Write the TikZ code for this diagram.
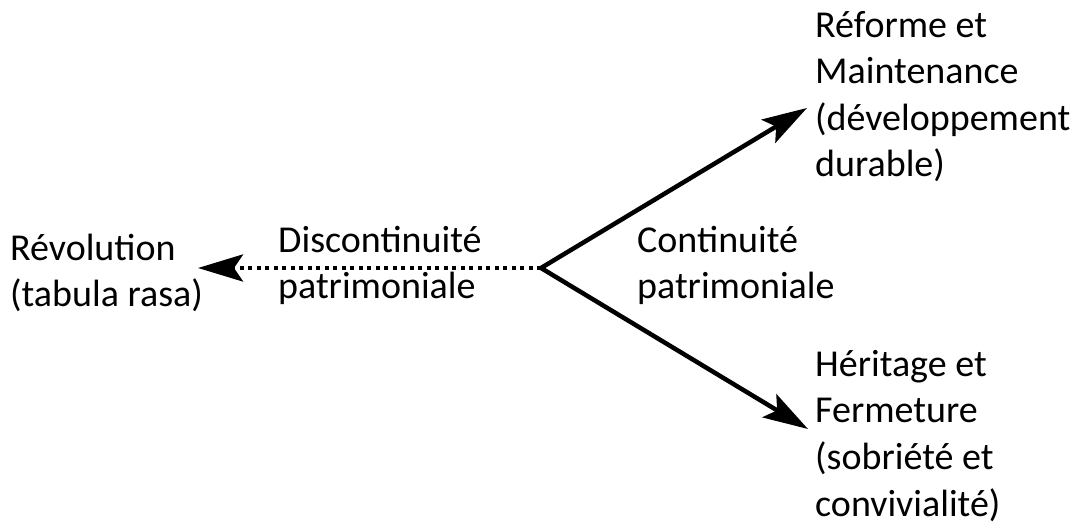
\documentclass[tikz,border=0pt]{standalone}
\usepackage{fontspec}
\setmainfont{Carlito}
\usepackage{tikz}
\usetikzlibrary{arrows.meta,positioning,calc}

\tikzset{
    label/.style={inner sep=0pt, align=left, anchor=base west,
        font=\fontsize{38}{46.5}\selectfont},
    branch/.style={line width=4.5pt, -{Stealth[length=45pt,width=27pt,inset=9pt]}},
    rupture/.style={branch, dash pattern=on 4pt off 4.5pt}
}

\begin{document}
\begin{tikzpicture}[x=1pt, y=-1pt]
    \useasboundingbox (0,0) rectangle (1077,526);
    % branching point and arrow ends
    \coordinate (fork) at (541,268);
    \coordinate (tipup) at (807,108);
    \coordinate (tipdown) at (808,429);
    \coordinate (tipleft) at (198,268);

    % outcomes (anchored at the last line)
    \node[label] (reforme) at (815,177) {Réforme et\\Maintenance\\(développement\\durable)};
    \node[label] (heritage) at (815,516) {Héritage et\\Fermeture\\(sobriété et\\convivialité)};
    \node[label] (revolution) at (10,307) {Révolution\\(tabula rasa)};

    % kinds of heritage
    \node[label] (discont) at (278,299) {Discontinuité\\patrimoniale};
    \node[label] (cont) at (637,299) {Continuité\\patrimoniale};

    \draw[branch] (fork) -- (tipup);
    \draw[branch] (fork) -- (tipdown);
    \draw[rupture] (fork) -- (tipleft);
\end{tikzpicture}
\end{document}
